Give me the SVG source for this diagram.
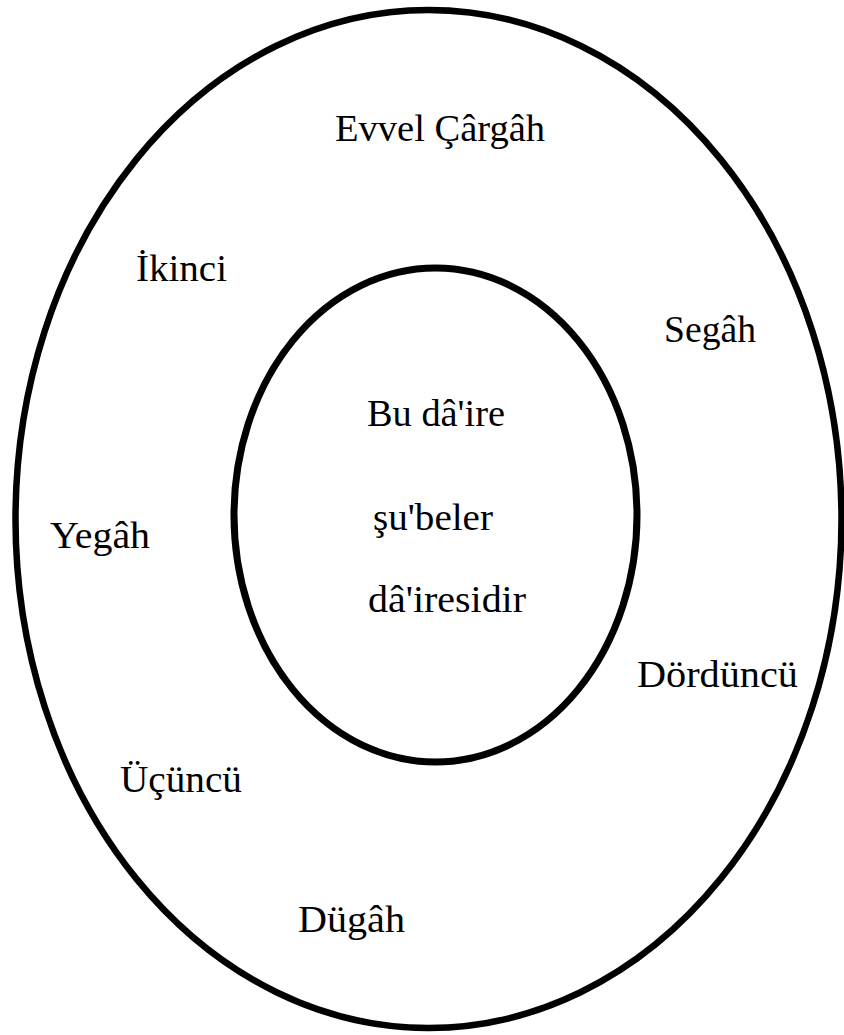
<svg xmlns="http://www.w3.org/2000/svg" width="844" height="1035" viewBox="0 0 844 1035">
<style>
.ring{fill:none;stroke:#000;stroke-width:6.5}
.inner{fill:none;stroke:#000;stroke-width:7}
text{font-family:"Liberation Serif","Times New Roman",serif;font-size:38px;fill:#000}
</style>
<rect width="844" height="1035" fill="#fff"/>
<g id="outer"><ellipse class="ring" cx="428.5" cy="519" rx="413" ry="509"/></g>
<g id="inner"><ellipse class="inner" cx="435.5" cy="515" rx="201.5" ry="247"/></g>
<g id="labels">
<text id="evvel" x="335" y="141" textLength="210" lengthAdjust="spacingAndGlyphs">Evvel Çârgâh</text>
<text id="ikinci" x="136" y="281" textLength="91" lengthAdjust="spacingAndGlyphs">İkinci</text>
<text id="segah" x="664" y="342" textLength="92" lengthAdjust="spacingAndGlyphs">Segâh</text>
<text id="bu" x="367" y="426" textLength="138" lengthAdjust="spacingAndGlyphs">Bu dâ'ire</text>
<text id="subeler" x="373" y="530" textLength="120" lengthAdjust="spacingAndGlyphs">şu'beler</text>
<text id="daire" x="368" y="612" textLength="158" lengthAdjust="spacingAndGlyphs">dâ'iresidir</text>
<text id="yegah" x="50" y="548" textLength="100" lengthAdjust="spacingAndGlyphs">Yegâh</text>
<text id="dorduncu" x="637" y="687" textLength="161" lengthAdjust="spacingAndGlyphs">Dördüncü</text>
<text id="ucuncu" x="120" y="792" textLength="122" lengthAdjust="spacingAndGlyphs">Üçüncü</text>
<text id="dugah" x="298" y="932" textLength="107" lengthAdjust="spacingAndGlyphs">Dügâh</text>
</g>
</svg>
